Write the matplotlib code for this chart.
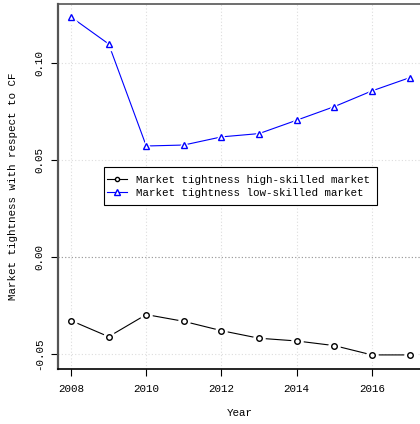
import matplotlib
matplotlib.use('Agg')
import matplotlib.pyplot as plt
from matplotlib.patches import Rectangle

years = [2008, 2009, 2010, 2011, 2012, 2013, 2014, 2015, 2016, 2017]
high_skilled = [-0.0328, -0.0411, -0.0297, -0.0332, -0.0380, -0.0419, -0.0433, -0.0457, -0.0505, -0.0505]
low_skilled = [0.1237, 0.1098, 0.0572, 0.0577, 0.0619, 0.0636, 0.0705, 0.0775, 0.0856, 0.0924]
xticks = [2008, 2010, 2012, 2014, 2016]
yticks = [-0.05, 0.00, 0.05, 0.10]
ytick_labels = ['-0.05', '0.00', '0.05', '0.10']

FS = 7.8
plt.rcParams['font.family'] = ['Liberation Mono', 'DejaVu Sans Mono']
plt.rcParams['font.size'] = FS

W, H = 420, 424
fig = plt.figure(figsize=(W / 100, H / 100), dpi=100)
# axes runs off the right edge like the source
ax = fig.add_axes([58 / W, 1 - 368.5 / H, 370 / W, 364.5 / H])
ax.set_xlim(2007.654, 2017.49)
ax.set_ylim(-0.0575, 0.1304)

ax.grid(True, color='#dddddd', linestyle=(0, (1, 2)), linewidth=0.8)
ax.set_axisbelow(True)
ax.axhline(0, color='#999999', linestyle=(0, (1, 2)), linewidth=0.8, zorder=1)


def series(y, color, marker, ms, label):
    ax.plot(years, y, color=color, linewidth=0.8, zorder=2)
    # white halo gives the gap around each point (type="b")
    ax.plot(years, y, linestyle='none', marker=marker, ms=ms + 4,
            mfc='white', mec='white', zorder=3)
    ax.plot(years, y, linestyle='none', marker=marker, ms=ms,
            mfc='white', mec=color, mew=1.0, zorder=4)
    return ax.plot([], [], color=color, linewidth=0.8, marker=marker, ms=ms - 1,
                   mfc='white', mec=color, mew=1.0, label=label)[0]


h1 = series(high_skilled, 'black', 'o', 4, 'Market tightness high-skilled market')
h2 = series(low_skilled, 'blue', '^', 5, 'Market tightness low-skilled market')

# R-style legend box: wider vertical padding than matplotlib gives, so draw frame by hand
box = Rectangle((104 / W, 1 - 205 / H), 273 / W, 38 / H, transform=fig.transFigure,
                facecolor='white', edgecolor='black', linewidth=0.8, zorder=5)
ax.add_artist(box)
box.set_clip_on(False)
leg = ax.legend(handles=[h1, h2], loc='center left',
                bbox_to_anchor=(106.5 / W, 1 - 186.5 / H), bbox_transform=fig.transFigure,
                frameon=False, fontsize=FS, handlelength=1.85, handletextpad=0.9,
                borderpad=0, labelspacing=0.25, borderaxespad=0)
leg.set_zorder(6)

ax.set_xticks(xticks)
ax.set_yticks(yticks)
ax.set_yticklabels(ytick_labels, rotation=90, va='center')
ax.tick_params(axis='both', direction='out', length=5, width=0.8, colors='black', labelsize=FS)
ax.tick_params(axis='x', pad=6)
ax.tick_params(axis='y', pad=5)

ax.spines['right'].set_visible(False)
ax.spines['left'].set_color('#555555')
ax.spines['left'].set_linewidth(1.6)
ax.spines['bottom'].set_linewidth(1.2)
ax.spines['top'].set_color('#555555')
ax.spines['top'].set_linewidth(1.2)

fig.text(240 / W, 1 - 413 / H, 'Year', ha='center', va='center', fontsize=FS)
fig.text(13 / W, 1 - 186 / H, 'Market tightness with respect to CF',
         ha='center', va='center', rotation=90, fontsize=FS)

fig.savefig('out.png', dpi=100)
